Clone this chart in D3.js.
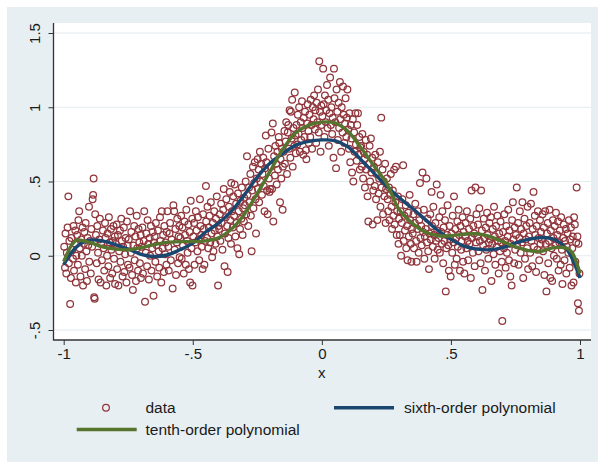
<!DOCTYPE html>
<html>
<head>
<meta charset="utf-8">
<script src="https://cdn.jsdelivr.net/npm/d3@7"></script>
<style>
  html, body { margin: 0; padding: 0; background: #ffffff; }
  svg { display: block; }
  text { font-family: "Liberation Sans", Arial, Helvetica, sans-serif; fill: #1a1a1a; }
</style>
</head>
<body>
<div id="chart"></div>
<script>
// ---------------- DATA ----------------
const xTicks = [-1, -0.5, 0, 0.5, 1];
const xTickLabels = ["-1", "-.5", "0", ".5", "1"];
const yTicks = [-0.5, 0, 0.5, 1, 1.5];
const yTickLabels = ["-.5", "0", ".5", "1", "1.5"];
const xTitle = "x";
const legendLabels = ["data", "sixth-order polynomial", "tenth-order polynomial"];

// scatter points [x, y]
const scatterPoints = [
[-.998,.06],[-.995,-.08],[-.993,.15],[-.99,-.12],[-.988,.02],[-.985,.19],[-.982,.4],[-.98,-.05],[-.978,.1],[-.975,-.325],[-.972,-.15],[-.97,.12],[-.967,.04],[-.964,-.02],[-.962,.2],[-.96,-.1],[-.957,.08],[-.955,.17],[-.953,-.18],[-.951,.0],
[-.948,.14],[-.945,-.06],[-.943,.24],[-.94,.3],[-.938,.05],[-.935,-.14],[-.932,.11],[-.93,.0],[-.927,.19],[-.925,-.2],[-.922,.08],[-.92,.16],[-.917,-.09],[-.915,.22],[-.912,.03],[-.91,-.17],[-.907,.12],[-.905,.07],[-.902,.33],[-.901,-.04],
[-.898,.1],[-.895,-.12],[-.893,.18],[-.89,.06],[-.888,.38],[-.886,.41],[-.884,.52],[-.882,-.28],[-.88,-.29],[-.878,.28],[-.875,.14],[-.872,-.05],[-.87,.2],[-.867,.02],[-.865,-.16],[-.862,.11],[-.86,.25],[-.857,-.18],[-.855,.08],[-.852,-.03],
[-.848,.17],[-.845,.05],[-.843,-.1],[-.84,.22],[-.838,.12],[-.835,-.2],[-.832,.0],[-.83,.15],[-.827,-.07],[-.825,.26],[-.822,.09],[-.82,-.15],[-.817,.18],[-.815,.04],[-.812,-.12],[-.81,.1],[-.807,.2],[-.805,-.02],[-.802,.13],[-.801,-.19],
[-.798,.08],[-.795,.21],[-.793,-.09],[-.79,.14],[-.788,-.2],[-.785,.03],[-.782,.17],[-.78,-.04],[-.777,.25],[-.775,.1],[-.772,-.14],[-.77,.06],[-.767,.19],[-.765,-.11],[-.762,.01],[-.76,.12],[-.757,-.18],[-.755,.23],[-.752,.07],[-.751,-.06],
[-.748,.11],[-.745,-.08],[-.743,.3],[-.74,.02],[-.738,.16],[-.735,-.13],[-.732,-.23],[-.73,.07],[-.727,.2],[-.725,-.03],[-.722,.13],[-.72,-.17],[-.717,.27],[-.715,.05],[-.712,-.1],[-.71,.18],[-.707,.09],[-.705,-.05],[-.702,.14],[-.701,-.15],
[-.698,.06],[-.695,.19],[-.693,-.12],[-.69,.1],[-.688,.3],[-.685,-.31],[-.682,.02],[-.68,.15],[-.677,-.07],[-.675,.24],[-.672,.08],[-.67,-.16],[-.667,.12],[-.665,.0],[-.662,.2],[-.66,-.1],[-.657,.05],[-.655,.16],[-.652,-.27],[-.651,.09],
[-.648,.13],[-.645,-.04],[-.643,.22],[-.64,.07],[-.638,-.14],[-.635,.17],[-.632,.03],[-.63,-.08],[-.627,.26],[-.625,.1],[-.622,-.18],[-.62,.3],[-.617,.05],[-.615,.14],[-.612,-.11],[-.61,.2],[-.607,.01],[-.605,.09],[-.602,-.06],[-.601,.16],
[-.598,.3],[-.595,.06],[-.593,-.1],[-.59,.15],[-.588,.22],[-.585,-.03],[-.582,.11],[-.578,-.22],[-.575,.34],[-.572,.3],[-.57,.04],[-.567,.18],[-.565,-.13],[-.562,.09],[-.56,.25],[-.557,-.05],[-.555,.13],[-.552,.2],[-.551,-.01],
[-.548,.12],[-.545,.27],[-.543,-.02],[-.54,.19],[-.538,.07],[-.535,-.12],[-.532,.23],[-.53,.14],[-.527,-.06],[-.525,.31],[-.522,.1],[-.52,.02],[-.517,.21],[-.515,-.09],[-.512,.16],[-.51,-.18],[-.508,.37],[-.505,.05],[-.502,.25],[-.501,-.2],
[-.498,.13],[-.495,.22],[-.493,-.06],[-.49,.09],[-.488,.3],[-.485,.17],[-.482,.03],[-.48,.26],[-.477,.11],[-.475,-.03],[-.472,.38],[-.47,.2],[-.467,.14],[-.465,.06],[-.462,-.09],[-.46,.28],[-.457,.18],[-.455,-.06],[-.452,.1],[-.449,.47],
[-.448,.23],[-.445,.12],[-.443,.33],[-.44,.05],[-.438,.19],[-.435,.27],[-.432,.09],[-.43,.36],[-.427,.15],[-.425,-.01],[-.422,.22],[-.42,.03],[-.417,.3],[-.415,.17],[-.412,.08],[-.41,.25],[-.407,.4],[-.405,.13],[-.402,-.2],[-.401,.2],
[-.398,.18],[-.395,.28],[-.393,.1],[-.39,.35],[-.388,.22],[-.385,.04],[-.382,.31],[-.38,.45],[-.377,-.07],[-.375,.15],[-.372,.26],[-.37,.38],[-.367,.2],[-.365,-.11],[-.362,.12],[-.36,.33],[-.357,.43],[-.355,.24],[-.352,.08],[-.351,.49],
[-.348,.3],[-.345,.19],[-.343,.4],[-.34,.27],[-.338,.48],[-.335,.13],[-.332,.35],[-.33,.22],[-.327,.05],[-.325,.42],[-.322,.3],[-.32,.01],[-.317,.18],[-.315,.37],[-.312,.25],[-.31,.46],[-.307,.14],[-.305,.32],[-.302,.23],[-.301,.39],
[-.298,.34],[-.295,.5],[-.293,.28],[-.29,.67],[-.288,.41],[-.285,.2],[-.282,.46],[-.28,.36],[-.277,.55],[-.275,.27],[-.272,.03],[-.27,.44],[-.267,.6],[-.265,.32],[-.262,.49],[-.26,.63],[-.257,.38],[-.255,.15],[-.252,.52],[-.249,.65],
[-.248,.45],[-.245,.58],[-.243,.36],[-.24,.7],[-.238,.5],[-.235,.62],[-.232,.41],[-.23,.55],[-.227,.66],[-.225,.47],[-.222,.3],[-.22,.59],[-.217,.81],[-.215,.63],[-.212,.44],[-.21,.28],[-.207,.72],[-.205,.52],[-.203,.43],[-.201,.45],
[-.198,.6],[-.195,.83],[-.193,.45],[-.19,.89],[-.188,.23],[-.185,.67],[-.182,.54],[-.18,.74],[-.177,.62],[-.175,.48],[-.172,.7],[-.17,.58],[-.167,.8],[-.165,.76],[-.162,.36],[-.16,.65],[-.157,.52],[-.155,.72],[-.152,.31],[-.151,.6],
[-.148,.7],[-.145,.84],[-.143,.62],[-.14,.77],[-.138,.9],[-.135,.55],[-.132,.83],[-.13,.88],[-.127,.72],[-.125,.98],[-.122,.66],[-.12,.97],[-.117,.79],[-.115,1.05],[-.113,.6],[-.11,.86],[-.107,.74],[-.105,1.1],[-.102,.81],[-.101,.69],
[-.098,.88],[-.095,.75],[-.093,.95],[-.09,.82],[-.088,1.0],[-.085,.7],[-.082,.9],[-.08,.78],[-.077,1.04],[-.075,.86],[-.072,.68],[-.07,.93],[-.067,.8],[-.065,.97],[-.062,.71],[-.06,.65],[-.057,.89],[-.055,1.02],[-.052,.84],[-.051,.76],
[-.048,.95],[-.045,.8],[-.043,1.05],[-.04,.88],[-.038,.72],[-.035,1.0],[-.032,.92],[-.03,1.08],[-.027,.85],[-.025,.98],[-.022,.76],[-.02,1.03],[-.017,.9],[-.015,1.12],[-.012,.83],[-.01,1.31],[-.007,.97],[-.005,.7],[-.002,1.01],[-.001,.88],
[.002,.94],[.005,1.26],[.007,1.02],[.01,.8],[.012,1.08],[.015,.9],[.017,.98],[.02,1.15],[.022,.86],[.025,1.05],[.027,.74],[.03,.96],[.032,1.2],[.035,.88],[.037,1.0],[.04,.82],[.042,.93],[.045,.66],[.047,1.26],[.049,1.06],
[.052,.9],[.055,.59],[.057,1.12],[.06,.97],[.062,.78],[.065,1.03],[.067,.86],[.07,1.17],[.072,.92],[.075,.7],[.077,1.0],[.08,.83],[.082,1.14],[.085,.95],[.087,.76],[.09,.89],[.092,1.06],[.095,.8],[.097,.93],[.099,1.12],
[.102,.85],[.105,.72],[.107,.96],[.11,.63],[.112,.88],[.115,.79],[.117,.56],[.12,.92],[.122,.5],[.125,.83],[.127,.7],[.13,.96],[.132,.75],[.135,.64],[.137,.88],[.14,.96],[.142,.68],[.145,.8],[.147,.58],[.149,.73],
[.152,.74],[.155,.6],[.157,.82],[.16,.52],[.162,.7],[.165,.65],[.167,.46],[.17,.78],[.172,.58],[.175,.68],[.177,.4],[.18,.23],[.182,.62],[.185,.74],[.187,.5],[.19,.79],[.192,.56],[.195,.66],[.197,.21],[.199,.44],
[.202,.6],[.205,.47],[.207,.68],[.21,.38],[.212,.55],[.215,.24],[.217,.63],[.22,.42],[.222,.52],[.225,.7],[.227,.33],[.23,.93],[.232,.46],[.235,.58],[.237,.28],[.24,.5],[.242,.4],[.245,.62],[.247,.22],[.249,.45],
[.252,.52],[.255,.38],[.257,.3],[.26,.46],[.262,.24],[.265,.41],[.267,.55],[.27,.33],[.272,.18],[.275,.44],[.277,.27],[.28,.58],[.282,.21],[.285,.36],[.287,.6],[.29,.14],[.292,.3],[.295,.4],[.297,.08],[.299,.25],
[.302,.14],[.305,.3],[.307,.0],[.31,.22],[.312,.38],[.315,.61],[.317,.1],[.32,.27],[.322,.17],[.325,.34],[.327,.05],[.33,.2],[.332,-.03],[.335,.29],[.337,.13],[.34,.41],[.342,.24],[.345,.08],[.347,-.04],[.349,.18],
[.352,.15],[.355,.28],[.357,.05],[.36,.22],[.362,.35],[.365,.1],[.367,-.04],[.37,.18],[.372,.3],[.375,.02],[.377,.24],[.38,.49],[.382,.12],[.385,.2],[.387,.07],[.39,.56],[.392,.16],[.395,.31],[.397,-.02],[.399,.13],
[.402,.18],[.405,.52],[.407,.09],[.41,.25],[.412,.03],[.415,-.09],[.417,.15],[.42,.28],[.422,.11],[.425,.43],[.427,.2],[.43,.06],[.432,.33],[.435,.14],[.437,-.02],[.44,.22],[.442,.1],[.445,.48],[.447,.17],[.449,.04],
[.452,.12],[.455,.26],[.457,.02],[.46,.41],[.462,.16],[.465,.08],[.467,.3],[.47,-.05],[.472,.19],[.475,.1],[.477,.24],[.48,-.24],[.482,.05],[.485,.14],[.487,.34],[.49,.07],[.492,-.1],[.495,.2],[.497,.11],[.499,-.14],
[.502,.15],[.505,.02],[.507,.27],[.51,.09],[.512,.4],[.515,-.06],[.517,.18],[.52,.12],[.522,-.02],[.525,.23],[.527,.06],[.53,.31],[.532,.14],[.535,-.1],[.537,.2],[.54,.04],[.542,.1],[.545,.26],[.547,-.04],[.549,.16],
[.552,-.12],[.555,.13],[.557,.22],[.56,.05],[.562,.3],[.565,.1],[.567,-.03],[.57,.18],[.572,.08],[.575,.25],[.577,-.15],[.58,.44],[.582,.12],[.585,.02],[.587,.2],[.59,.15],[.592,-.07],[.595,.46],[.597,.09],[.599,.28],
[.602,.13],[.605,.21],[.607,.03],[.61,.32],[.612,.1],[.615,-.05],[.617,.44],[.62,.17],[.622,-.23],[.625,.07],[.627,.25],[.63,.12],[.632,-.1],[.635,.19],[.637,.04],[.64,.29],[.642,.14],[.645,-.02],[.647,.09],[.649,.22],
[.652,.11],[.655,.26],[.657,-.17],[.66,.08],[.662,.18],[.665,.01],[.667,.33],[.67,.13],[.672,-.06],[.675,.2],[.677,.06],[.68,.27],[.682,.1],[.685,-.12],[.687,.15],[.69,.03],[.692,.23],[.695,.09],[.697,-.04],[.699,-.44],
[.702,.16],[.705,.05],[.707,.28],[.71,.1],[.712,-.08],[.715,.2],[.717,.02],[.72,.13],[.722,.31],[.725,-.03],[.727,.17],[.73,-.14],[.732,.08],[.735,-.2],[.737,.24],[.74,.36],[.742,.11],[.745,-.05],[.747,.19],[.749,.04],
[.752,.14],[.755,.46],[.757,.07],[.76,.22],[.762,-.06],[.765,.12],[.767,.3],[.77,.02],[.772,.18],[.775,.09],[.777,.36],[.78,-.15],[.782,.15],[.785,.25],[.787,-.02],[.79,.11],[.792,.2],[.795,.05],[.797,.33],[.799,-.09],
[.802,.13],[.805,.22],[.807,.02],[.81,.35],[.812,.1],[.815,-.07],[.817,.18],[.82,.43],[.822,.06],[.825,.27],[.827,.14],[.83,-.11],[.832,.2],[.835,.04],[.837,.3],[.84,.12],[.842,-.03],[.845,.24],[.847,.08],[.849,.16],
[.852,.11],[.855,.28],[.857,.03],[.86,.19],[.862,-.13],[.865,.3],[.867,.08],[.87,-.24],[.872,.15],[.875,.22],[.877,-.05],[.88,.1],[.882,.31],[.885,-.15],[.887,.17],[.89,.05],[.892,-.17],[.895,.24],[.897,.12],[.899,.0],
[.902,.2],[.905,.07],[.907,.29],[.91,-.02],[.912,.14],[.915,.23],[.917,-.1],[.92,.09],[.922,.17],[.925,-.06],[.927,.26],[.93,.04],[.932,-.19],[.935,.12],[.937,.21],[.94,-.03],[.942,.1],[.945,.18],[.947,-.12],[.949,.06],
[.952,.15],[.955,.02],[.957,.24],[.96,-.08],[.962,.11],[.965,.19],[.967,-.2],[.97,.05],[.972,.13],[.975,-.18],[.977,.26],[.98,.21],[.982,-.04],[.985,.09],[.987,.46],[.99,.13],[.992,-.32],[.994,.08],[.996,-.37],[.998,-.12]
];

// fitted curves
const sixthX = [-1,-0.95,-0.9,-0.85,-0.8,-0.75,-0.7,-0.65,-0.6,-0.55,-0.5,-0.45,-0.4,-0.35,-0.3,-0.25,-0.2,-0.15,-0.1,-0.05,0,0.05,0.1,0.15,0.2,0.25,0.3,0.35,0.4,0.45,0.5,0.55,0.6,0.65,0.7,0.75,0.8,0.85,0.9,0.95,1];
const sixthY = [-0.06,0.06,0.105,0.1,0.075,0.045,0.01,-0.005,0.005,0.04,0.085,0.16,0.22,0.3,0.41,0.53,0.625,0.69,0.745,0.77,0.78,0.775,0.735,0.65,0.56,0.47,0.39,0.32,0.245,0.17,0.11,0.065,0.045,0.04,0.055,0.085,0.11,0.123,0.11,0.04,-0.15];
const tenthX = [-1,-0.97,-0.95,-0.9,-0.85,-0.8,-0.75,-0.7,-0.65,-0.6,-0.55,-0.5,-0.45,-0.4,-0.35,-0.3,-0.25,-0.2,-0.15,-0.1,-0.05,0,0.05,0.1,0.15,0.2,0.25,0.3,0.35,0.4,0.45,0.5,0.55,0.6,0.65,0.7,0.75,0.8,0.85,0.9,0.95,0.97,1];
const tenthY = [-0.04,0.07,0.105,0.09,0.06,0.045,0.04,0.055,0.075,0.09,0.095,0.095,0.1,0.12,0.18,0.28,0.42,0.57,0.72,0.83,0.88,0.9,0.895,0.84,0.73,0.61,0.49,0.31,0.22,0.16,0.135,0.135,0.145,0.148,0.13,0.095,0.06,0.035,0.03,0.055,0.05,0.02,-0.12];

// ---------------- STYLE ----------------
const W = 598, H = 462;
const colBg = "#e8eff2";
const colGrid = "#e3eaed";
const colData = "#90353b";
const colSixth = "#1a476f";
const colTenth = "#55752f";

const svg = d3.select("#chart").append("svg").attr("width", W).attr("height", H);

svg.append("rect").attr("x", 0).attr("y", 0).attr("width", W).attr("height", H).attr("fill", "#ffffff");
svg.append("rect").attr("x", 7).attr("y", 7).attr("width", W - 7).attr("height", H - 7).attr("fill", colBg);

const plot = { left: 53.5, right: 591, top: 23, bottom: 340 };
svg.append("rect").attr("x", plot.left).attr("y", plot.top)
  .attr("width", plot.right - plot.left).attr("height", plot.bottom - plot.top).attr("fill", "#ffffff");

const x = d3.scaleLinear().domain([-1, 1]).range([63.7, 580]);
const y = d3.scaleLinear().domain([-0.5, 1.5]).range([330, 33]);

// gridlines
svg.append("g").selectAll("line").data(yTicks).join("line")
  .attr("x1", plot.left).attr("x2", plot.right)
  .attr("y1", d => y(d)).attr("y2", d => y(d))
  .attr("stroke", colGrid).attr("stroke-width", 1.2);

// scatter
svg.append("g").selectAll("circle").data(scatterPoints).join("circle")
  .attr("cx", d => x(d[0])).attr("cy", d => y(d[1])).attr("r", 3.35)
  .attr("fill", "none").attr("stroke", colData).attr("stroke-width", 1.25);

const line = d3.line().x(d => x(d[0])).y(d => y(d[1])).curve(d3.curveCatmullRom.alpha(0.5));
svg.append("path").datum(sixthX.map((v, i) => [v, sixthY[i]]))
  .attr("d", line).attr("fill", "none").attr("stroke", colSixth).attr("stroke-width", 3.4);
svg.append("path").datum(tenthX.map((v, i) => [v, tenthY[i]]))
  .attr("d", line).attr("fill", "none").attr("stroke", colTenth).attr("stroke-width", 3.4);

// axes
const yAxis = d3.axisLeft(y).tickValues(yTicks).tickSize(5).tickFormat((d, i) => yTickLabels[i]);
const gy = svg.append("g").attr("transform", `translate(${plot.left},0)`).call(yAxis);
gy.select(".domain").remove();
gy.selectAll(".tick line").attr("stroke", "#333").attr("stroke-width", 1);
gy.selectAll(".tick text")
  .attr("x", 0).attr("dy", 0)
  .attr("transform", "translate(-14,0) rotate(-90)")
  .attr("text-anchor", "middle")
  .attr("font-size", 15).attr("fill", "#1a1a1a")
  .style("font-family", '"Liberation Sans", Arial, sans-serif');
gy.attr("font-family", null).attr("font-size", null);

const xAxis = d3.axisBottom(x).tickValues(xTicks).tickSize(5).tickFormat((d, i) => xTickLabels[i]);
const gx = svg.append("g").attr("transform", `translate(0,${plot.bottom})`).call(xAxis);
gx.select(".domain").remove();
gx.selectAll(".tick line").attr("stroke", "#333").attr("stroke-width", 1);
gx.selectAll(".tick text").attr("y", 8).attr("dy", "0.71em")
  .attr("font-size", 15).attr("fill", "#1a1a1a")
  .style("font-family", '"Liberation Sans", Arial, sans-serif');
gx.attr("font-family", null).attr("font-size", null);

svg.append("line").attr("x1", plot.left).attr("x2", plot.left).attr("y1", plot.top).attr("y2", plot.bottom + 0.5)
  .attr("stroke", "#333").attr("stroke-width", 1.3);
svg.append("line").attr("x1", plot.left).attr("x2", plot.right).attr("y1", plot.bottom).attr("y2", plot.bottom)
  .attr("stroke", "#333").attr("stroke-width", 1.3);

svg.append("text").attr("x", x(0)).attr("y", 378).attr("text-anchor", "middle")
  .attr("font-size", 15).text(xTitle);

// legend
const leg = svg.append("g");
leg.append("circle").attr("cx", 106).attr("cy", 407.7).attr("r", 3.35)
  .attr("fill", "none").attr("stroke", colData).attr("stroke-width", 1.25);
leg.append("text").attr("x", 145.5).attr("y", 413).attr("font-size", 15.5).text(legendLabels[0]);
leg.append("line").attr("x1", 334).attr("x2", 394).attr("y1", 407.7).attr("y2", 407.7)
  .attr("stroke", colSixth).attr("stroke-width", 3.4);
leg.append("text").attr("x", 404).attr("y", 413).attr("font-size", 15.5).text(legendLabels[1]);
leg.append("line").attr("x1", 76.7).attr("x2", 136.7).attr("y1", 429.5).attr("y2", 429.5)
  .attr("stroke", colTenth).attr("stroke-width", 3.4);
leg.append("text").attr("x", 145.5).attr("y", 434.5).attr("font-size", 15.5).text(legendLabels[2]);
</script>
</body>
</html>
